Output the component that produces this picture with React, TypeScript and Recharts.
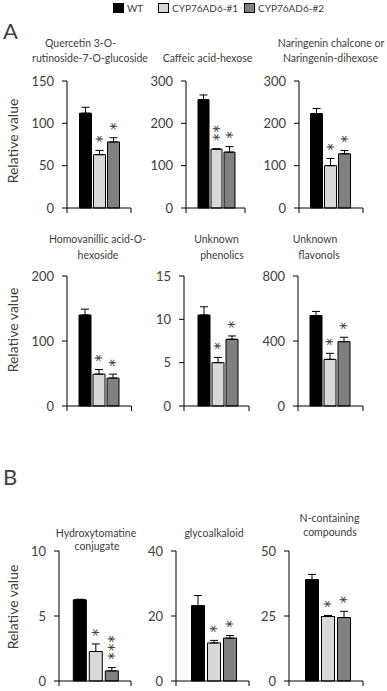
import { Bar, BarChart, ErrorBar, LabelList, XAxis, YAxis } from "recharts"

const series = ["WT", "CYP76AD6-#1", "CYP76AD6-#2"]
const colors = ["#000000", "#d9d9d9", "#808080"]

const titles = [
  ["Quercetin 3-O-", "rutinoside-7-O-glucoside"],
  ["Caffeic acid-hexose"],
  ["Naringenin chalcone or", "Naringenin-dihexose"],
  ["Homovanillic acid-O-", "hexoside"],
  ["Unknown", "phenolics"],
  ["Unknown", "flavonols"],
  ["Hydroxytomatine", "conjugate"],
  ["glycoalkaloid"],
  ["N-containing", "compounds"],
]

const wt = [112, 256, 223, 140, 10.5, 557, 6.25, 23.2, 39]
const wtErr = [7, 11, 12, 9, 0.95, 25, 0.04, 3.1, 2]
const ko1 = [63, 139, 100, 49, 5.0, 287, 2.27, 11.7, 24.8]
const ko1Err = [5, 1, 17, 7, 0.6, 37, 0.58, 0.8, 0.4]
const ko2 = [78, 132, 128, 43, 7.7, 396, 0.78, 13.2, 24.4]
const ko2Err = [5, 13, 8, 6, 0.38, 27, 0.25, 0.8, 2.4]
const ko1Sig = ["*", "**", "*", "*", "*", "*", "*", "*", "*"]
const ko2Sig = ["*", "*", "*", "*", "*", "*", "***", "*", "*"]

const yTicks = [
  [0, 50, 100, 150],
  [0, 100, 200, 300],
  [0, 100, 200, 300],
  [0, 100, 200],
  [0, 5, 10, 15],
  [0, 400, 800],
  [0, 5, 10],
  [0, 20, 40],
  [0, 25, 50],
]

// layout (page pixels)
const rowTop = [81, 276, 551]
const rowBase = [208, 406, 681]
const axisX = [67, 186, 299, 67, 184, 298, 59, 176, 289]
const axisEnd = [131, 245, 363, 131.5, 249, 363, 131, 249, 363]
const groupCenter = [99.5, 216, 330.5, 99, 218, 330, 95.3, 213.5, 327.5]
const barSizes = [12, 11, 12, 12, 12, 12, 13, 13, 13]
const barGaps = [2, 2, 2, 2, 2, 2, 3, 3, 3]
const titleX = [[80.5, 90], [207.5], [331, 330.5], [97.5, 98], [216.5, 222], [315, 319], [96, 97], [214], [329.5, 330]]
const titleY = [[43, 58], [58], [43, 58], [239, 255], [239, 255], [239, 255], [532.7, 545.7], [532.7], [518, 531.7]]
const legendX = [113, 158, 244]
const rowLabelY = [141, 330, 607]

const YW = 45
const MT = 10
const XH = 8
const TEXT = "#404040"
const STAR_FS = 15
const STAR_STEP = 8.5

function Panel({ i }: { i: number }) {
  const row = Math.floor(i / 3)
  const top = rowTop[row]
  const base = rowBase[row]
  const len = axisEnd[i] - axisX[i]
  const max = yTicks[i][yTicks[i].length - 1]
  const pxPerUnit = (base - top) / max
  const half = 25
  const padL = groupCenter[i] - half - axisX[i]
  const padR = axisEnd[i] - groupCenter[i] - half

  const data = [
    {
      name: "g",
      wt: wt[i],
      wtErr: [0, wtErr[i]],
      ko1: ko1[i],
      ko1Err: [0, ko1Err[i]],
      ko1Sig: ko1Sig[i],
      ko2: ko2[i],
      ko2Err: [0, ko2Err[i]],
      ko2Sig: ko2Sig[i],
    },
  ]

  // significance stars, stacked upward above the error bar cap (one text run turned 90deg)
  const stars = (err: number) => (props: any) => {
    const vb = props.viewBox ?? props
    const x = Number(vb.x ?? props.x)
    const y = Number(vb.y ?? props.y)
    const w = Number(vb.width ?? props.width)
    const value = String(props.value ?? "")
    if (!value) return null
    const errTop = y - err * pxPerUnit
    const n = value.length
    const cx = x + w / 2
    const cy = errTop - 11 - ((n - 1) * STAR_STEP) / 2
    const bx = cx - 0.59 * STAR_FS
    return (
      <text
        x={bx}
        y={cy}
        transform={`rotate(90 ${bx} ${cy})`}
        textAnchor="middle"
        fontFamily="DejaVu Sans"
        fontSize={STAR_FS}
        letterSpacing={STAR_STEP - 0.5 * STAR_FS}
        fill={TEXT}
        style={{ fill: TEXT }}
      >
        {value}
      </text>
    )
  }

  const ends = (props: any) => {
    const y = Number(props.y)
    return (
      <g>
        <line x1={YW} y1={y} x2={YW} y2={y + 5} stroke="#000" />
        <line x1={YW + len} y1={y} x2={YW + len} y2={y + 5} stroke="#000" />
      </g>
    )
  }

  return (
    <div style={{ position: "absolute", left: axisX[i] - YW, top: top - MT }}>
      <BarChart
        width={YW + len + 6}
        height={base - top + MT + XH}
        data={data}
        margin={{ top: MT, right: 6, bottom: 0, left: 0 }}
        barSize={barSizes[i]}
        barGap={barGaps[i]}
        barCategoryGap={0}
      >
        <XAxis
          dataKey="name"
          height={XH}
          padding={{ left: padL, right: padR }}
          tickLine={false}
          tickSize={0}
          tickMargin={0}
          axisLine={{ stroke: "#000" }}
          tick={ends}
        />
        <YAxis
          width={YW}
          type="number"
          domain={[0, max]}
          ticks={yTicks[i]}
          interval={0}
          tickSize={5}
          tickMargin={8}
          axisLine={{ stroke: "#000" }}
          tickLine={{ stroke: "#000" }}
          tick={{ fontSize: 13, fill: TEXT }}
        />
        <Bar dataKey="wt" fill={colors[0]} stroke="#000" strokeWidth={1} isAnimationActive={false}>
          <ErrorBar dataKey="wtErr" width={4} stroke="#000" strokeWidth={1} isAnimationActive={false} />
        </Bar>
        <Bar dataKey="ko1" fill={colors[1]} stroke="#000" strokeWidth={1} isAnimationActive={false}>
          <ErrorBar dataKey="ko1Err" width={4} stroke="#000" strokeWidth={1} isAnimationActive={false} />
          <LabelList dataKey="ko1Sig" content={stars(ko1Err[i])} />
        </Bar>
        <Bar dataKey="ko2" fill={colors[2]} stroke="#000" strokeWidth={1} isAnimationActive={false}>
          <ErrorBar dataKey="ko2Err" width={4} stroke="#000" strokeWidth={1} isAnimationActive={false} />
          <LabelList dataKey="ko2Sig" content={stars(ko2Err[i])} />
        </Bar>
      </BarChart>
    </div>
  )
}

export default function App() {
  return (
    <div
      style={{
        position: "absolute",
        left: 0,
        top: 0,
        width: 387,
        height: 691,
        background: "#fff",
        fontFamily: "Lato, sans-serif",
        color: TEXT,
        overflow: "hidden",
      }}
    >
      {series.map((s, k) => (
        <div
          key={s}
          style={{ position: "absolute", left: legendX[k], top: 1, display: "flex", alignItems: "center", fontSize: 10, lineHeight: "14px" }}
        >
          <span
            style={{
              display: "inline-block",
              width: 11,
              height: 10,
              background: colors[k],
              border: "1px solid #000",
              boxSizing: "border-box",
              marginRight: 3,
            }}
          />
          {s}
        </div>
      ))}
      <div style={{ position: "absolute", left: 3, top: 18, fontSize: 22, lineHeight: "26px" }}>A</div>
      <div style={{ position: "absolute", left: 3, top: 464, fontSize: 22, lineHeight: "26px" }}>B</div>
      {rowLabelY.map((y, r) => (
        <div
          key={r}
          style={{
            position: "absolute",
            left: 12,
            top: y,
            transform: "translate(-50%, -50%) rotate(-90deg)",
            fontSize: 14,
            whiteSpace: "nowrap",
          }}
        >
          Relative value
        </div>
      ))}
      {titles.map((lines, i) =>
        lines.map((t, j) => (
          <div
            key={`${i}-${j}`}
            style={{
              position: "absolute",
              left: titleX[i][j],
              top: titleY[i][j],
              transform: "translate(-50%, -50%)",
              fontSize: 10.5,
              whiteSpace: "nowrap",
            }}
          >
            {t}
          </div>
        ))
      )}
      {titles.map((_, i) => (
        <Panel key={i} i={i} />
      ))}
    </div>
  )
}
